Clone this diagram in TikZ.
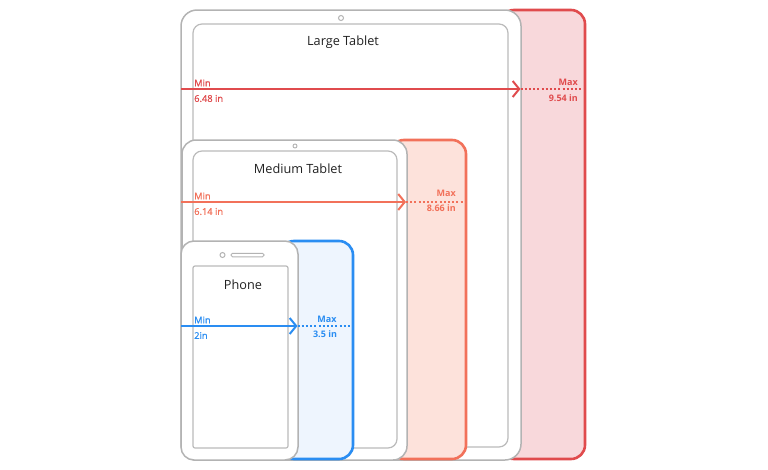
\documentclass[tikz,border=0pt]{standalone}
\usepackage{fontspec}
\setmainfont{Open Sans}
\newfontfamily\semib[FakeBold=0.9]{Open Sans}
\usetikzlibrary{arrows.meta}
\definecolor{lgB}{HTML}{E04B4D}
\definecolor{lgF}{HTML}{F8D8DB}
\definecolor{mdB}{HTML}{F2715A}
\definecolor{mdF}{HTML}{FDE2DB}
\definecolor{phB}{HTML}{2A8DF2}
\definecolor{phF}{HTML}{EEF5FE}
\definecolor{devG}{HTML}{B3B3B3}
\definecolor{txt}{HTML}{222222}
\tikzset{
  devbox/.style={draw=devG, line width=1.5pt, fill=white, rounded corners=#1},
  scrbox/.style={draw=devG!90, line width=1.2pt, fill=white, rounded corners=#1},
  zone/.style 2 args={draw=#1, fill=#2, line width=2.6pt, rounded corners=14pt},
  title/.style={text=txt, font=\fontsize{12.7}{14}\selectfont},
  minlab/.style={anchor=west, inner sep=0pt, font=\semib\fontsize{9.3}{10}\selectfont},
  maxlab/.style={inner sep=0pt, font=\bfseries\fontsize{9}{10}\selectfont},
  minarrow/.style={draw=#1, line width=2pt, -{Straight Barb[length=6.5pt,width=16pt,line width=2pt]}},
  maxdots/.style={draw=#1, line width=2pt, dash pattern=on 2pt off 2.2pt},
}
\begin{document}
\begin{tikzpicture}[x=1pt,y=-1pt]
\useasboundingbox (0,0) rectangle (768,469);
% ---------------- Large tablet ----------------
\path[zone={lgB}{lgF}] (500,10) rectangle (585,459);
\node[devbox=16pt, minimum width=340pt, minimum height=450pt, inner sep=0pt] (ldev) at (351,235) {};
\node[scrbox=9pt, minimum width=315pt, minimum height=423pt, inner sep=0pt] (lscr) at (350.5,235.5) {};
\node[draw=devG, line width=1pt, circle, minimum size=5pt, inner sep=0pt] (lcam) at (341,18) {};
\node[title] (ltitle) at (343,42) {Large Tablet};
\coordinate (lA) at (181,89);
\coordinate (lB) at (520.5,89);
\coordinate (lC) at (585,89);
\draw[minarrow=lgB] (lA) -- (lB);
\draw[maxdots=lgB] (lB) -- (lC);
\node[minlab, text=lgB] (lmin) at (194,83) {Min};
\node[minlab, text=lgB] (lminv) at (194,98.5) {6.48 in};
\node[maxlab, text=lgB, anchor=east] (lmax) at (578,82) {Max};
\node[maxlab, text=lgB, anchor=east] (lmaxv) at (578,98) {9.54 in};
% ---------------- Medium tablet ----------------
\path[zone={mdB}{mdF}] (390,140) rectangle (466,459);
\node[devbox=14pt, minimum width=225pt, minimum height=320pt, inner sep=0pt] (mdev) at (294.5,300) {};
\node[scrbox=9pt, minimum width=204pt, minimum height=297pt, inner sep=0pt] (mscr) at (295,299.5) {};
\node[draw=devG, line width=0.9pt, circle, minimum size=4pt, inner sep=0pt] (mcam) at (295,146) {};
\node[title] (mtitle) at (298,169) {Medium Tablet};
\coordinate (mA) at (181,202);
\coordinate (mB) at (406,202);
\coordinate (mC) at (466,202);
\draw[minarrow=mdB] (mA) -- (mB);
\draw[maxdots=mdB] (mB) -- (mC);
\node[minlab, text=mdB] (mmin) at (194,196) {Min};
\node[minlab, text=mdB] (mminv) at (194,211.5) {6.14 in};
\node[maxlab, text=mdB, anchor=east] (mmax) at (456,193) {Max};
\node[maxlab, text=mdB, anchor=east] (mmaxv) at (456,208) {8.66 in};
% ---------------- Phone ----------------
\path[zone={phB}{phF}] (280,241) rectangle (353,459);
\node[devbox=13pt, minimum width=117pt, minimum height=219pt, inner sep=0pt] (pdev) at (239.5,350.5) {};
\node[scrbox=2pt, minimum width=95pt, minimum height=182pt, inner sep=0pt] (pscr) at (240.5,357) {};
\node[draw=devG, line width=1pt, circle, minimum size=5pt, inner sep=0pt] (pcam) at (222.5,255) {};
\node[draw=devG, line width=1pt, rounded corners=1.5pt, minimum width=33pt, minimum height=3.5pt, inner sep=0pt] (pspk) at (247.5,255) {};
\node[title] (ptitle) at (243,285) {Phone};
\coordinate (pA) at (181,326);
\coordinate (pB) at (297.5,326);
\coordinate (pC) at (353,326);
\draw[minarrow=phB] (pA) -- (pB);
\draw[maxdots=phB] (pB) -- (pC);
\node[minlab, text=phB] (pmin) at (194,320) {Min};
\node[minlab, text=phB] (pminv) at (194,335.5) {2in};
\node[maxlab, text=phB] (pmax) at (327,319.5) {Max};
\node[maxlab, text=phB] (pmaxv) at (325,334.5) {3.5 in};
\end{tikzpicture}
\end{document}
